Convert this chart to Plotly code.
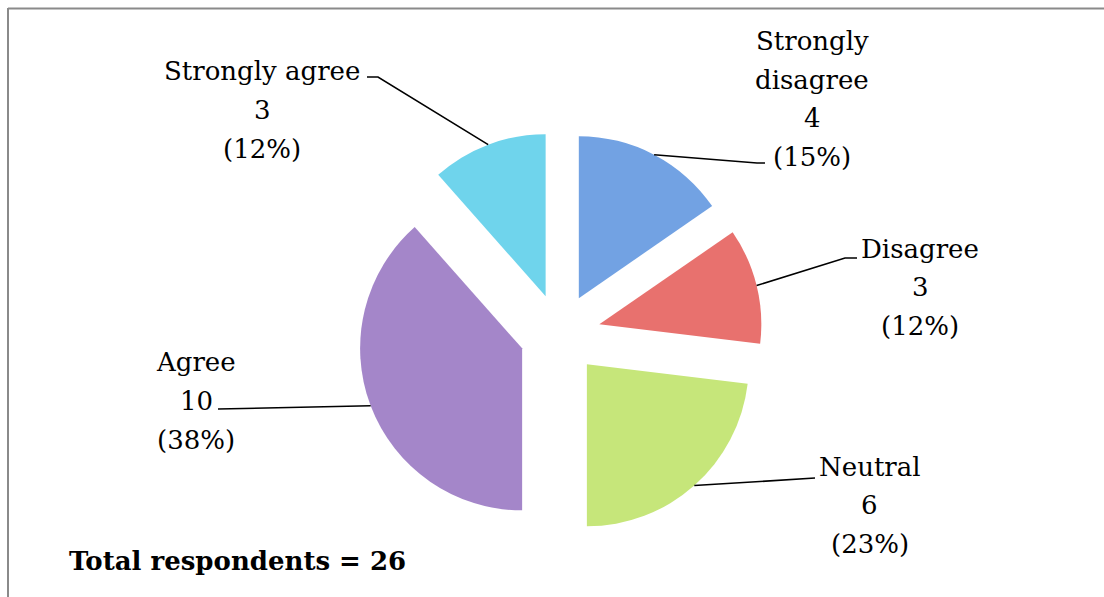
import math
import plotly.graph_objects as go

# Survey responses
categories = ["Strongly disagree", "Disagree", "Neutral", "Agree", "Strongly agree"]
counts = [4, 3, 6, 10, 3]
label_lines = [["Strongly", "disagree"], ["Disagree"], ["Neutral"], ["Agree"], ["Strongly agree"]]
total_label = "Total respondents"

colors = ["#72a2e3", "#e8716e", "#c6e67a", "#a486c9", "#6fd4ec"]

W, H = 1104, 597
CX, CY = 560, 334          # pie centre in pixels
R = 162                    # pie radius in pixels
PULL = 0.25
FONT = "DejaVu Serif"
FSIZE = 26
LINE_GAP = 38.5            # spacing between label lines in pixels

half = R * (1 + PULL)
dom_x = [(CX - half) / W, (CX + half) / W]
dom_y = [1 - (CY + half) / H, 1 - (CY - half) / H]


def px(x):
    return x / W


def py(y):
    return 1 - y / H


total = sum(counts)

fig = go.Figure(go.Pie(
    labels=categories,
    values=counts,
    sort=False,
    direction="clockwise",
    rotation=0,
    pull=[PULL] * len(counts),
    marker=dict(colors=colors, line=dict(width=0)),
    textinfo="none",
    hoverinfo="skip",
    domain=dict(x=dom_x, y=dom_y),
    showlegend=False,
))

# label block centres and leader-line bends (pixels)
label_pos = [(812, 99), (920, 287), (870, 505), (196, 401), (262, 110)]
leader_bends = [
    [(757, 163), (765, 163)],
    [(845, 258), (857, 258)],
    [(815, 478)],
    [(218, 409)],
    [(378, 77), (367, 77)],
]

shapes = []
annotations = []
start = 0.0
for i, c in enumerate(counts):
    frac = c / total
    mid = (start + frac / 2) * 2 * math.pi   # clockwise from 12 o'clock
    start += frac
    sx = CX + PULL * R * math.sin(mid)
    sy = CY - PULL * R * math.cos(mid)
    ax = sx + R * math.sin(mid)
    ay = sy - R * math.cos(mid)
    pts = [(ax, ay)] + leader_bends[i]
    path = "M " + " L ".join(f"{px(x):.5f},{py(y):.5f}" for x, y in pts)
    shapes.append(dict(type="path", path=path, xref="paper", yref="paper",
                       line=dict(color="black", width=1.6)))
    pct = round(100 * frac)
    lines = label_lines[i] + [str(c), f"({pct}%)"]
    lx, ly = label_pos[i]
    n = len(lines)
    for k, line in enumerate(lines):
        yk = ly + (k - (n - 1) / 2) * LINE_GAP
        annotations.append(dict(text=line, x=px(lx), y=py(yk), xref="paper", yref="paper",
                                showarrow=False, xanchor="center", yanchor="middle",
                                font=dict(family=FONT, size=FSIZE, color="black")))

annotations.append(dict(text=f"<b>{total_label} = {total}</b>", x=px(67), y=py(561),
                        xref="paper", yref="paper", showarrow=False,
                        xanchor="left", yanchor="middle",
                        font=dict(family=FONT, size=FSIZE, color="black")))

# chart area frame (left and top edges)
shapes.append(dict(type="line", xref="paper", yref="paper", x0=px(8), x1=px(8),
                   y0=py(8), y1=py(600), line=dict(color="#8a8a8a", width=2)))
shapes.append(dict(type="line", xref="paper", yref="paper", x0=px(8), x1=px(1110),
                   y0=py(8.5), y1=py(8.5), line=dict(color="#8a8a8a", width=2)))

fig.update_layout(
    width=W, height=H,
    margin=dict(l=0, r=0, t=0, b=0),
    paper_bgcolor="white", plot_bgcolor="white",
    shapes=shapes, annotations=annotations,
)

fig.write_html("out.html")
